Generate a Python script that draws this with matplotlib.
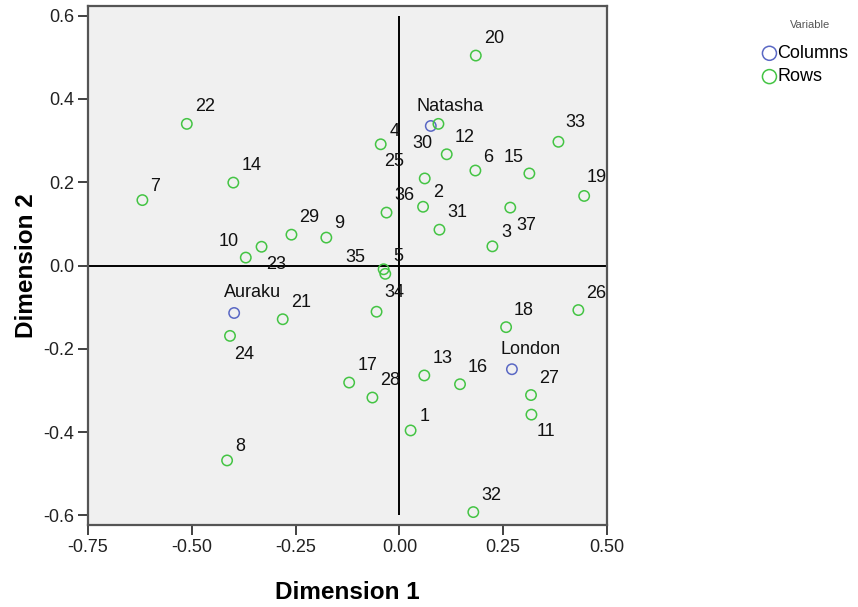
import numpy as np
import matplotlib.pyplot as plt

plt.rcParams['font.family'] = ['Liberation Sans', 'DejaVu Sans']

# row points (dimension 1, dimension 2)
row_labels = [str(i) for i in range(1, 38)]
row_x = [0.027, 0.057, 0.224, -0.045, -0.038, 0.183, -0.619, -0.415, -0.176, -0.370,
         0.318, 0.114, 0.060, -0.400, 0.313, 0.146, -0.121, 0.257, 0.445, 0.184,
         -0.281, -0.512, -0.332, -0.408, 0.061, 0.431, 0.317, -0.065, -0.260, 0.094,
         0.0965, 0.178, 0.383, -0.055, -0.034, -0.031, 0.267]
row_y = [-0.396, 0.141, 0.046, 0.291, -0.009, 0.228, 0.157, -0.468, 0.067, 0.019,
         -0.358, 0.267, -0.264, 0.199, 0.221, -0.285, -0.281, -0.148, 0.167, 0.504,
         -0.129, 0.340, 0.045, -0.169, 0.209, -0.107, -0.311, -0.317, 0.074, 0.340,
         0.086, -0.592, 0.297, -0.111, -0.020, 0.127, 0.139]

# column points
col_labels = ['Natasha', 'Auraku', 'London']
col_x = [0.0756, -0.398, 0.271]
col_y = [0.335, -0.114, -0.249]

xticks = [-0.75, -0.50, -0.25, 0.00, 0.25, 0.50]
yticks = [-0.6, -0.4, -0.2, 0.0, 0.2, 0.4, 0.6]

# label placement (pixels from point), default is up-right
default_off = (8, 17, 'left')
label_off = {
    '1': (9, 14, 'left'), '2': (10, 14, 'left'), '3': (9, 14, 'left'),
    '4': (9, 13, 'left'), '5': (10, 13, 'left'), '6': (8, 13, 'left'),
    '7': (8, 14, 'left'), '8': (8, 14, 'left'), '9': (8, 14, 'left'),
    '10': (-7, 16, 'right'), '11': (5, -17, 'left'), '15': (-6, 16, 'right'),
    '19': (2, 18, 'left'), '23': (5, -18, 'left'), '24': (4, -19, 'left'),
    '25': (-21, 17, 'right'), '30': (-6, -20, 'right'), '33': (7, 19, 'left'),
    '34': (8, 19, 'left'), '35': (-20, 16, 'right'), '37': (6, -18, 'left'),
    'Natasha': (-14, 19, 'left'), 'Auraku': (-10, 20, 'left'), 'London': (-11, 20, 'left'),
}

green = '#44c444'
blue = '#5a68c4'

fig = plt.figure(figsize=(8.58, 6.07), dpi=100)
ax = fig.add_axes([88/858, 82/607, 519/858, 519/607])
ax.set_facecolor('#f0f0f0')

ax.axhline(0, color='black', lw=1.4, zorder=1)
ax.vlines(0, -0.6, 0.6, color='black', lw=1.4, zorder=1)

h_col = ax.scatter(col_x, col_y, s=56, facecolors='none', edgecolors=blue, linewidths=1.1, zorder=3)
h_row = ax.scatter(row_x, row_y, s=56, facecolors='none', edgecolors=green, linewidths=1.1, zorder=3)

for lab, x, y in list(zip(row_labels, row_x, row_y)) + list(zip(col_labels, col_x, col_y)):
    dx, dy, ha = label_off.get(lab, default_off)
    ax.annotate(lab, (x, y), xytext=(dx, dy), textcoords='offset pixels',
                ha=ha, va='center', fontsize=13, color='#111111', zorder=4)

ax.set_xlim(-0.75, 0.5)
ax.set_ylim(-0.623, 0.623)
ax.set_xticks(xticks)
ax.set_xticklabels(['%.2f' % v for v in xticks])
ax.set_yticks(yticks)
ax.set_yticklabels(['%.1f' % v for v in yticks])
ax.tick_params(length=7, width=1.3, color='#333333', labelsize=13, labelcolor='#222222', pad=3)
for sp in ax.spines.values():
    sp.set_color('#555555')
    sp.set_linewidth(1.6)

ax.set_xlabel('Dimension 1', fontsize=17.5, fontweight='bold', labelpad=18)
ax.set_ylabel('Dimension 2', fontsize=17.5, fontweight='bold', labelpad=4)

# legend (title drawn separately, SPSS puts it well above the entries)
fig.text(810/858, 1 - 25/607, 'Variable', fontsize=8, color='#555555', ha='center', va='center')
fig.legend([h_col, h_row], ['Columns', 'Rows'],
           loc='upper left', bbox_to_anchor=(755/858, 1 - 36/607),
           frameon=False, fontsize=13, markerscale=1.35,
           handlelength=0.6, handletextpad=0.15, labelspacing=0.35, borderpad=0)

fig.savefig('out.png', dpi=100)
